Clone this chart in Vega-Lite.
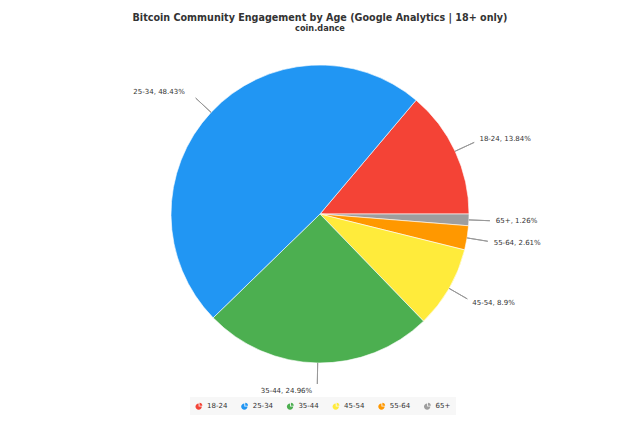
{
  "$schema": "https://vega.github.io/schema/vega-lite/v6.json",
  "width": 640,
  "height": 348,
  "autosize": {"type": "none"},
  "padding": {"top": 40, "left": 0, "right": 0, "bottom": 39},
  "background": "#ffffff",
  "config": {"view": {"stroke": null}},
  "title": {
    "text": "Bitcoin Community Engagement by Age (Google Analytics | 18+ only)",
    "subtitle": "coin.dance",
    "anchor": "middle",
    "frame": "group",
    "offset": 8,
    "font": "DejaVu Sans",
    "fontSize": 9.6,
    "fontWeight": "bold",
    "color": "#333333",
    "subtitleFont": "DejaVu Sans",
    "subtitleFontSize": 8.2,
    "subtitleFontWeight": "bold",
    "subtitleColor": "#333333",
    "subtitlePadding": 2
  },
  "data": {
    "values": [
      {"age": "18-24", "share": 13.84, "label": "18-24, 13.84%", "side": "right"},
      {"age": "65+", "share": 1.26, "label": "65+, 1.26%", "side": "right"},
      {"age": "55-64", "share": 2.61, "label": "55-64, 2.61%", "side": "right"},
      {"age": "45-54", "share": 8.9, "label": "45-54, 8.9%", "side": "right"},
      {"age": "35-44", "share": 24.96, "label": "35-44, 24.96%", "side": "left"},
      {"age": "25-34", "share": 48.43, "label": "25-34, 48.43%", "side": "left"}
    ]
  },
  "transform": [
    {"window": [{"op": "row_number", "as": "idx"}]},
    {"stack": "share", "groupby": [], "sort": [{"field": "idx", "order": "ascending"}], "as": ["s0", "s1"]}
  ],
  "layer": [
    {
      "mark": {"type": "arc", "radius": 149, "stroke": "#ffffff", "strokeWidth": 0.6},
      "encoding": {
        "theta": {"field": "s0", "type": "quantitative", "stack": null, "scale": {"domain": [0, 100], "range": [0.70121, 6.9844]}},
        "theta2": {"field": "s1"},
        "color": {
          "field": "age",
          "type": "nominal",
          "scale": {
            "domain": ["18-24", "25-34", "35-44", "45-54", "55-64", "65+"],
            "range": ["#F44336", "#2196F3", "#4CAF50", "#FFEB3B", "#FF9800", "#9E9E9E"]
          },
          "legend": {
            "orient": "none",
            "legendX": 190,
            "legendY": 357,
            "direction": "horizontal",
            "title": null,
            "fillColor": "#f7f7f7",
            "padding": 5,
            "labelFont": "DejaVu Sans",
            "labelFontSize": 7,
            "labelColor": "#333333",
            "labelOffset": 4,
            "columnPadding": 12.7,
            "symbolType": "M-0.1,0.1 L0.8,0.1 A0.9,0.9 0 1 1 -0.1,-0.8 Z M0.15,-0.15 L0.15,-0.95 A0.8,0.8 0 0 1 0.95,-0.15 Z",
            "symbolSize": 50,
            "symbolStrokeWidth": 0,
            "symbolOpacity": 1
          }
        }
      }
    },
    {
      "transform": [
        {"fold": ["s0", "s1"], "as": ["edge", "pos"]},
        {"aggregate": [{"op": "mean", "field": "pos", "as": "mid"}], "groupby": ["age", "label", "side"]}
      ],
      "mark": {"type": "arc", "radius": 149, "radius2": 170, "fill": null, "stroke": "#999999", "strokeWidth": 1},
      "encoding": {
        "theta": {"field": "mid", "type": "quantitative", "stack": null, "scale": {"domain": [0, 100], "range": [0.70121, 6.9844]}},
        "theta2": {"field": "mid"}
      }
    },
    {
      "transform": [
        {"fold": ["s0", "s1"], "as": ["edge", "pos"]},
        {"aggregate": [{"op": "mean", "field": "pos", "as": "mid"}], "groupby": ["age", "label", "side"]},
        {"filter": "datum.side === 'right'"}
      ],
      "mark": {"type": "text", "radius": 178, "align": "left", "baseline": "middle", "dx": -2, "font": "DejaVu Sans", "fontSize": 7, "fill": "#333333"},
      "encoding": {
        "theta": {"field": "mid", "type": "quantitative", "stack": null, "scale": {"domain": [0, 100], "range": [0.70121, 6.9844]}},
        "text": {"field": "label", "type": "nominal"}
      }
    },
    {
      "transform": [
        {"fold": ["s0", "s1"], "as": ["edge", "pos"]},
        {"aggregate": [{"op": "mean", "field": "pos", "as": "mid"}], "groupby": ["age", "label", "side"]},
        {"filter": "datum.side === 'left'"}
      ],
      "mark": {"type": "text", "radius": 178, "align": "right", "baseline": "middle", "dx": -5, "dy": -1, "font": "DejaVu Sans", "fontSize": 7, "fill": "#333333"},
      "encoding": {
        "theta": {"field": "mid", "type": "quantitative", "stack": null, "scale": {"domain": [0, 100], "range": [0.70121, 6.9844]}},
        "text": {"field": "label", "type": "nominal"}
      }
    }
  ]
}
